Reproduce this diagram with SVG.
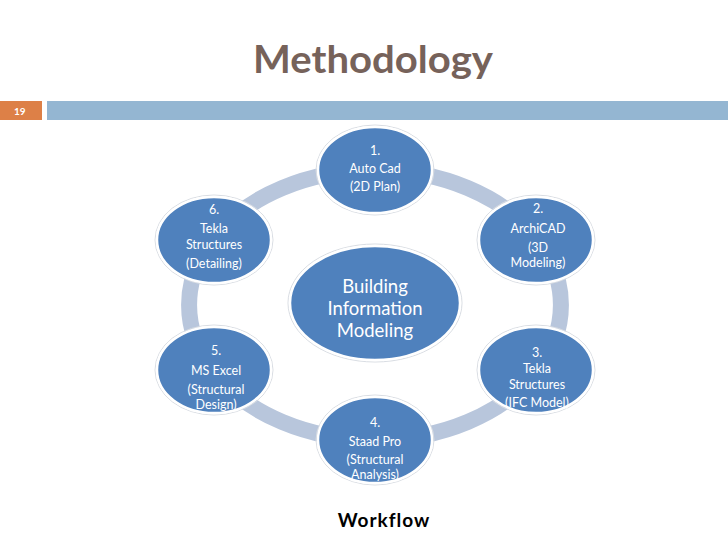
<svg xmlns="http://www.w3.org/2000/svg" width="728" height="546" viewBox="0 0 728 546">
<style>
.node{fill:#4f81bd;stroke:#ffffff;stroke-width:2.5}
.halo{fill:none;stroke:#d9dde3;stroke-width:1}
.t{font-family:Lato,"Open Sans",sans-serif;font-size:12.5px;fill:#ffffff;text-anchor:middle}
.c{font-family:Lato,"Open Sans",sans-serif;font-size:18.5px;fill:#ffffff;text-anchor:middle}
.arc{fill:none;stroke:#b8c6dc;stroke-width:16}
</style>
<rect width="728" height="546" fill="#ffffff"/>
<text x="373" y="73" font-family="Lato,sans-serif" font-weight="bold" font-size="38" fill="#76625a" text-anchor="middle" textLength="240" lengthAdjust="spacingAndGlyphs">Methodology</text>
<rect x="0" y="101" width="42" height="19" fill="#dd8047"/>
<text x="14" y="115" font-family="Lato,sans-serif" font-weight="bold" font-size="10" fill="#ffffff">19</text>
<rect x="47" y="101" width="681" height="19" fill="#94b6d2"/>
<g id="connectors">
<path class="arc" d="M375 170 A186 135 0 0 1 536 237.5"/>
<path class="arc" d="M536 237.5 A186 135 0 0 1 536 372.5"/>
<path class="arc" d="M536 372.5 A186 135 0 0 1 375 440"/>
<path class="arc" d="M375 440 A186 135 0 0 1 214 372.5"/>
<path class="arc" d="M214 372.5 A186 135 0 0 1 214 237.5"/>
<path class="arc" d="M214 237.5 A186 135 0 0 1 375 170"/>
</g>
<g id="center">
<ellipse class="halo" cx="375" cy="303" rx="87" ry="59"/>
<ellipse class="node" cx="375" cy="303" rx="85" ry="57"/>
<text class="c" x="375" y="293">Building</text>
<text class="c" x="375" y="315">Information</text>
<text class="c" x="375" y="337">Modeling</text>
</g>
<g id="node1">
<ellipse class="halo" cx="375" cy="170" rx="59" ry="45"/>
<ellipse class="node" cx="375" cy="170" rx="57" ry="43"/>
<text class="t" x="375" y="155">1.</text>
<text class="t" x="375" y="173">Auto Cad</text>
<text class="t" x="375" y="191">(2D Plan)</text>
</g>
<g id="node2">
<ellipse class="halo" cx="536" cy="240" rx="59" ry="45"/>
<ellipse class="node" cx="536" cy="240" rx="57" ry="43"/>
<text class="t" x="538" y="213">2.</text>
<text class="t" x="538" y="233">ArchiCAD</text>
<text class="t" x="538" y="252">(3D</text>
<text class="t" x="538" y="267">Modeling)</text>
</g>
<g id="node3">
<ellipse class="halo" cx="536" cy="370" rx="59" ry="45"/>
<ellipse class="node" cx="536" cy="370" rx="57" ry="43"/>
<text class="t" x="537" y="357">3.</text>
<text class="t" x="537" y="373">Tekla</text>
<text class="t" x="537" y="389">Structures</text>
<text class="t" x="537" y="407">(IFC Model)</text>
</g>
<g id="node4">
<ellipse class="halo" cx="375" cy="440" rx="59" ry="45"/>
<ellipse class="node" cx="375" cy="440" rx="57" ry="43"/>
<text class="t" x="375" y="427">4.</text>
<text class="t" x="375" y="446">Staad Pro</text>
<text class="t" x="375" y="464">(Structural</text>
<text class="t" x="375" y="479">Analysis)</text>
</g>
<g id="node5">
<ellipse class="halo" cx="214" cy="370" rx="59" ry="45"/>
<ellipse class="node" cx="214" cy="370" rx="57" ry="43"/>
<text class="t" x="216" y="355">5.</text>
<text class="t" x="216" y="375">MS Excel</text>
<text class="t" x="216" y="394">(Structural</text>
<text class="t" x="216" y="409">Design)</text>
</g>
<g id="node6">
<ellipse class="halo" cx="214" cy="240" rx="59" ry="45"/>
<ellipse class="node" cx="214" cy="240" rx="57" ry="43"/>
<text class="t" x="214" y="214">6.</text>
<text class="t" x="214" y="233">Tekla</text>
<text class="t" x="214" y="249">Structures</text>
<text class="t" x="214" y="268">(Detailing)</text>
</g>
<text x="384" y="527" font-family="Lato,sans-serif" font-weight="bold" font-size="19" fill="#000000" text-anchor="middle" letter-spacing="1">Workflow</text>
</svg>
